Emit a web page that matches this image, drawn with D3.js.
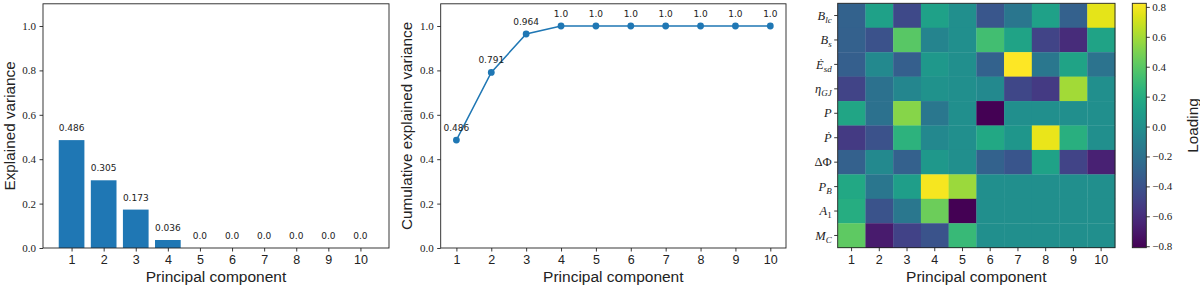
<!doctype html>
<html lang="en">
<head>
  <meta charset="utf-8">
  <title>PCA loadings</title>
  <style>
    body { margin: 0; background: #fff; }
    svg { display: block; }
  </style>
</head>
<body>
  <div id="chart"></div>
  <script src="https://cdn.jsdelivr.net/npm/d3@7"></script>
  <script>
var components = [1, 2, 3, 4, 5, 6, 7, 8, 9, 10];
var explained = [0.486, 0.305, 0.173, 0.036, 0.0, 0.0, 0.0, 0.0, 0.0, 0.0];
var cumulative = [0.486, 0.791, 0.964, 1.0, 1.0, 1.0, 1.0, 1.0, 1.0, 1.0];
var varTicks = [0.0, 0.2, 0.4, 0.6, 0.8, 1.0];

// rows of the heatmap, top to bottom ("_" marks a subscript)
var features = ["B_lc", "B_s", "\u0116_sd", "\u03b7_GJ", "P", "\u1e56", "\u0394\u03a6", "P_B", "A_1", "M_C"];
// loadings[row][component]
var loadings = [
  [-0.30,  0.12, -0.45,  0.12,  0.00, -0.37, -0.17,  0.12, -0.31,  0.76],
  [-0.31, -0.40,  0.40, -0.07,  0.00,  0.33,  0.14, -0.48, -0.61,  0.14],
  [-0.32, -0.04, -0.32,  0.06,  0.00, -0.30,  0.824, -0.16,  0.14, -0.19],
  [-0.48, -0.20, -0.06,  0.02,  0.00, -0.04, -0.46, -0.53,  0.60,  0.00],
  [ 0.15, -0.20,  0.53, -0.16,  0.00, -0.81,  0.00,  0.00,  0.00,  0.00],
  [-0.53, -0.40,  0.24, -0.05,  0.00,  0.17,  0.05,  0.77,  0.22,  0.00],
  [-0.31, -0.04, -0.31,  0.06,  0.00, -0.30, -0.38,  0.13, -0.48, -0.66],
  [ 0.17, -0.17,  0.10,  0.80,  0.58,  0.00,  0.00,  0.00,  0.00,  0.00],
  [ 0.20, -0.39, -0.16,  0.46, -0.81,  0.00,  0.00,  0.00,  0.00,  0.00],
  [ 0.42, -0.69, -0.49, -0.39,  0.29,  0.00,  0.00,  0.00,  0.00,  0.00]
];
var cbTicks = [-0.8, -0.6, -0.4, -0.2, 0.0, 0.2, 0.4, 0.6, 0.8];

var width = 1200, height = 289;
var blue = "#1f77b4";
var ink = "#222";
var sans = "'Liberation Sans', Arial, sans-serif";
var serif = "'Liberation Serif', 'DejaVu Serif', serif";
var plotTop = 3.8, plotBottom = 248;

var svg = d3.select("#chart").append("svg")
    .attr("width", width)
    .attr("height", height);

// python-ish str() of a rounded float
function pyStr(v) {
  return Number.isInteger(v) ? v.toFixed(1) : String(v);
}

function styleAxis(g, font, size) {
  g.select(".domain").remove();
  g.selectAll(".tick line").attr("stroke", ink).attr("stroke-width", 0.9);
  g.selectAll(".tick text").attr("font-family", font).attr("font-size", size).attr("fill", ink);
}

function frame(x0, y0, x1, y1) {
  svg.append("rect")
    .attr("x", x0).attr("y", y0)
    .attr("width", x1 - x0).attr("height", y1 - y0)
    .attr("fill", "none").attr("stroke", ink).attr("stroke-width", 0.9);
}

function xLabel(cx) {
  svg.append("text")
    .attr("x", cx).attr("y", 282)
    .attr("text-anchor", "middle")
    .attr("font-family", sans).attr("font-size", 15.5).attr("fill", ink)
    .text("Principal component");
}

function yLabel(cx, cy, txt) {
  svg.append("text")
    .attr("transform", "translate(" + cx + "," + cy + ")rotate(-90)")
    .attr("text-anchor", "middle")
    .attr("dy", "0.35em")
    .attr("font-family", sans).attr("font-size", 15.3).attr("fill", ink)
    .text(txt);
}

// ---- panel 1: explained variance bars ----
(function() {
  var x0 = 43, x1 = 389;
  var x = d3.scaleLinear().domain([0.11, 10.89]).range([x0, x1]);
  var y = d3.scaleLinear().domain([0, 1.1]).range([plotBottom, plotTop]);

  svg.append("g").selectAll("rect")
    .data(explained)
    .enter().append("rect")
    .attr("x", function(d, i) { return x(components[i] - 0.4); })
    .attr("width", x(1.4) - x(0.6))
    .attr("y", function(d) { return y(d); })
    .attr("height", function(d) { return y(0) - y(d); })
    .attr("fill", blue);

  svg.append("g").selectAll("text")
    .data(explained)
    .enter().append("text")
    .attr("x", function(d, i) { return x(components[i]); })
    .attr("y", function(d) { return y(d) - 9; })
    .attr("text-anchor", "middle")
    .attr("font-family", "'DejaVu Sans', sans-serif").attr("font-size", 9).attr("fill", ink)
    .text(function(d) { return pyStr(d); });

  var gx = svg.append("g").attr("transform", "translate(0," + plotBottom + ")")
    .call(d3.axisBottom(x).tickValues(components).tickFormat(d3.format("d")).tickSize(3.5).tickPadding(3.5));
  styleAxis(gx, sans, 12.5);
  var gy = svg.append("g").attr("transform", "translate(" + x0 + ",0)")
    .call(d3.axisLeft(y).tickValues(varTicks).tickFormat(d3.format(".1f")).tickSize(3.5).tickPadding(3.5));
  styleAxis(gy, serif, 11);

  frame(x0, plotTop, x1, plotBottom);
  xLabel((x0 + x1) / 2);
  yLabel(10, (plotTop + plotBottom) / 2, "Explained variance");
})();

// ---- panel 2: cumulative explained variance ----
(function() {
  var x0 = 440.7, x1 = 786;
  var x = d3.scaleLinear().domain([0.55, 10.45]).range([x0, x1]);
  var y = d3.scaleLinear().domain([0, 1.1]).range([plotBottom, plotTop]);

  var line = d3.line()
    .x(function(d, i) { return x(components[i]); })
    .y(function(d) { return y(d); });

  svg.append("path")
    .datum(cumulative)
    .attr("d", line)
    .attr("fill", "none")
    .attr("stroke", blue)
    .attr("stroke-width", 1.5);

  svg.append("g").selectAll("circle")
    .data(cumulative)
    .enter().append("circle")
    .attr("cx", function(d, i) { return x(components[i]); })
    .attr("cy", function(d) { return y(d); })
    .attr("r", 3.4)
    .attr("fill", blue);

  svg.append("g").selectAll("text")
    .data(cumulative)
    .enter().append("text")
    .attr("x", function(d, i) { return x(components[i]); })
    .attr("y", function(d) { return y(d) - 9; })
    .attr("text-anchor", "middle")
    .attr("font-family", "'DejaVu Sans', sans-serif").attr("font-size", 9).attr("fill", ink)
    .text(function(d) { return pyStr(d); });

  var gx = svg.append("g").attr("transform", "translate(0," + plotBottom + ")")
    .call(d3.axisBottom(x).tickValues(components).tickFormat(d3.format("d")).tickSize(3.5).tickPadding(3.5));
  styleAxis(gx, sans, 12.5);
  var gy = svg.append("g").attr("transform", "translate(" + x0 + ",0)")
    .call(d3.axisLeft(y).tickValues(varTicks).tickFormat(d3.format(".1f")).tickSize(3.5).tickPadding(3.5));
  styleAxis(gy, serif, 11);

  frame(x0, plotTop, x1, plotBottom);
  xLabel((x0 + x1) / 2);
  yLabel(406.7, (plotTop + plotBottom) / 2, "Cumulative explained variance");
})();

// ---- panel 3: loadings heatmap + colorbar ----
(function() {
  var x0 = 837.7, x1 = 1115, y0 = 3.3, y1 = 247.7;
  var x = d3.scaleBand().domain(components).range([x0, x1]);
  var y = d3.scaleBand().domain(features).range([y0, y1]);

  var flat = d3.merge(loadings);
  var ext = d3.extent(flat);
  var color = d3.scaleSequential(d3.interpolateViridis).domain(ext);

  var cells = [];
  loadings.forEach(function(row, r) {
    row.forEach(function(v, c) {
      cells.push({ f: features[r], c: components[c], v: v });
    });
  });

  svg.append("g").selectAll("rect")
    .data(cells)
    .enter().append("rect")
    .attr("x", function(d) { return x(d.c); })
    .attr("y", function(d) { return y(d.f); })
    .attr("width", x.bandwidth() + 0.3)
    .attr("height", y.bandwidth() + 0.3)
    .attr("fill", function(d) { return color(d.v); });

  var gx = svg.append("g").attr("transform", "translate(0," + y1 + ")")
    .call(d3.axisBottom(x).tickSize(3.5).tickPadding(3.5));
  styleAxis(gx, sans, 12.5);

  var gy = svg.append("g").attr("transform", "translate(" + x0 + ",0)")
    .call(d3.axisLeft(y).tickSize(3.5).tickFormat(""));
  styleAxis(gy, serif, 12.5);

  // math-ish tick labels
  gy.selectAll(".tick").each(function(name) {
    var parts = name.split("_");
    var t = d3.select(this).select("text")
      .attr("x", -6).attr("dy", "0.33em")
      .attr("text-anchor", "end")
      .attr("font-family", serif).attr("font-size", 12.5).attr("fill", ink)
      .text(null);
    t.append("tspan")
      .attr("font-style", name === "\u0394\u03a6" ? "normal" : "italic")
      .text(parts[0]);
    if (parts[1]) {
      t.append("tspan")
        .attr("dy", 3)
        .attr("font-size", 9)
        .attr("font-style", /\d/.test(parts[1]) ? "normal" : "italic")
        .text(parts[1]);
    }
  });

  frame(x0, y0, x1, y1);
  xLabel((x0 + x1) / 2);

  // colorbar
  var c0 = 1132.3, c1 = 1146.3;
  var cy = d3.scaleLinear().domain(ext).range([y1, y0]);
  var grad = svg.append("defs").append("linearGradient")
    .attr("id", "cbgrad")
    .attr("x1", 0).attr("y1", 1).attr("x2", 0).attr("y2", 0);
  d3.range(0, 1.0001, 0.05).forEach(function(t) {
    grad.append("stop")
      .attr("offset", t)
      .attr("stop-color", d3.interpolateViridis(t));
  });
  svg.append("rect")
    .attr("x", c0).attr("y", y0)
    .attr("width", c1 - c0).attr("height", y1 - y0)
    .attr("fill", "url(#cbgrad)");
  var gc = svg.append("g").attr("transform", "translate(" + c1 + ",0)")
    .call(d3.axisRight(cy).tickValues(cbTicks).tickFormat(d3.format(".1f")).tickSize(3.5).tickPadding(2.5));
  styleAxis(gc, serif, 11);
  frame(c0, y0, c1, y1);

  svg.append("text")
    .attr("transform", "translate(1193," + ((y0 + y1) / 2) + ")rotate(-90)")
    .attr("text-anchor", "middle")
    .attr("dy", "0.35em")
    .attr("font-family", sans).attr("font-size", 15.3).attr("fill", ink)
    .text("Loading");
})();
  </script>
</body>
</html>
